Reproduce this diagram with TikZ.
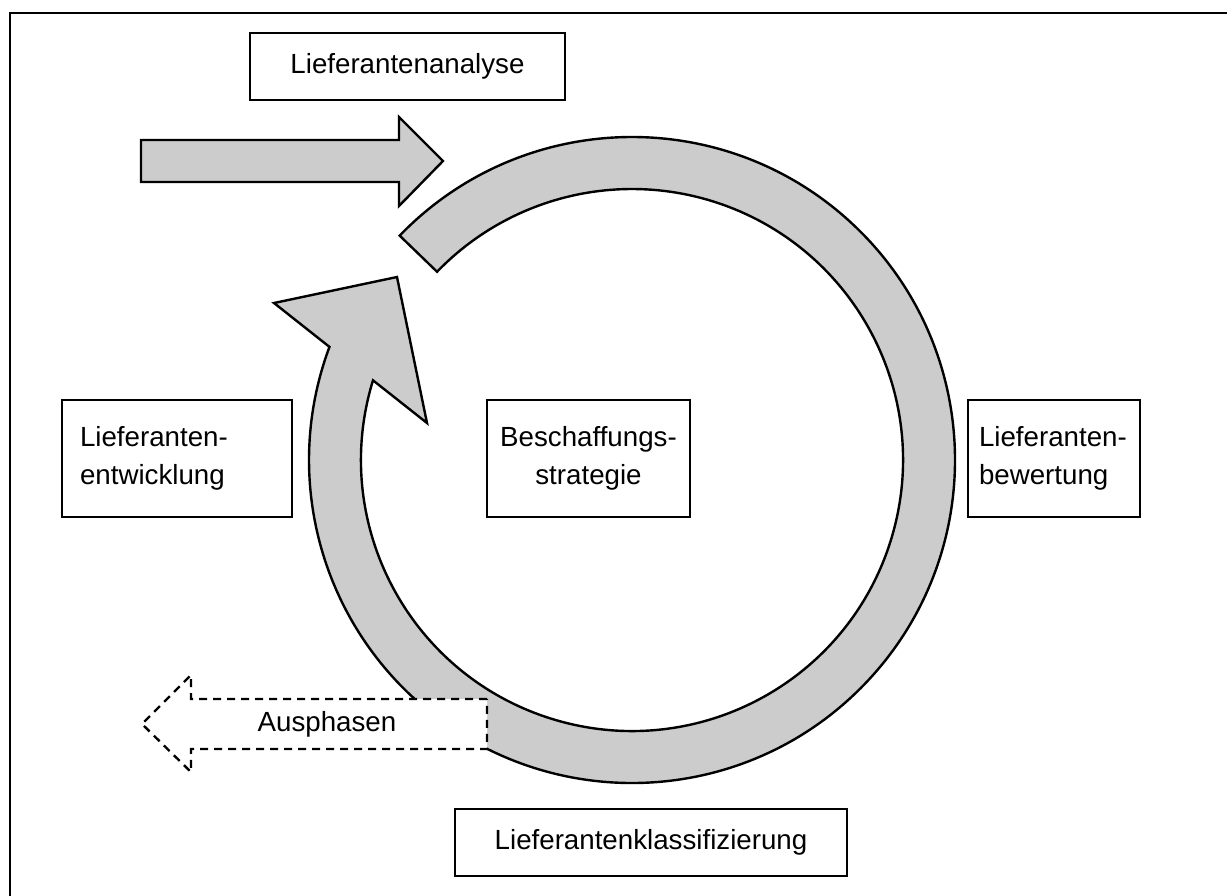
\documentclass[tikz,border=0pt]{standalone}
\usepackage{fontspec}
\setmainfont{Liberation Sans}
\definecolor{bandgray}{RGB}{204,204,204}
\begin{document}
\begin{tikzpicture}[x=1pt,y=1pt,
  txt/.style={font=\fontsize{27.7}{38}\selectfont},
  box/.style={txt, draw=black, fill=white, line width=2.4pt, inner sep=0pt},
  band/.style={draw=black, fill=bandgray, line width=2.4pt, line join=miter},
  outflow/.style={draw=black, fill=white, line width=2.4pt, dash pattern=on 8pt off 6pt}]
\useasboundingbox (0,0) rectangle (1227,-895);
\fill[white] (0,0) rectangle (1227,-895);

% outer frame (only top and left edges lie on the page)
\draw[line width=2.6pt] (1245,-13) -- (10,-13) -- (10,-915);

% entry arrow
\draw[band] (141,-140) -- (399,-140) -- (399,-117) -- (443,-161)
  -- (399,-206) -- (399,-182) -- (141,-182) -- cycle;

% circular cycle band with arrow head
\coordinate (c) at (632,-460);
\coordinate (barbL) at (274,-303);
\coordinate (tip) at (397,-277);
\coordinate (barbR) at (427,-423);
\draw[band] ([shift={(136:323pt)}]c)
  arc[start angle=136, end angle=-200.5, radius=323pt]
  -- (barbL) -- (tip) -- (barbR)
  -- ([shift={(-197.1:271pt)}]c)
  arc[start angle=-197.1, end angle=136, radius=271pt] -- cycle;

% phase-out arrow
\draw[outflow] (487,-699) -- (191,-699) -- (191,-675) -- (142,-724)
  -- (191,-772) -- (191,-749) -- (487,-749) -- cycle;
\node[txt] (ausphasen) at (327,-724) {Ausphasen};

% stage boxes
\node[box, minimum width=315pt, minimum height=67pt] (analyse) at (407.5,-66.5) {Lieferantenanalyse};
\node[box, minimum width=230pt, minimum height=117pt, text width=194pt, align=left] (entwicklung) at (177,-458.5) {Lieferanten-\\entwicklung};
\node[box, minimum width=203pt, minimum height=117pt, align=center] (strategie) at (588.5,-458.5) {Beschaffungs-\\strategie};
\node[box, minimum width=172pt, minimum height=117pt, text width=150pt, align=left] (bewertung) at (1054,-458.5) {Lieferanten-\\bewertung};
\node[box, minimum width=392pt, minimum height=67pt] (klassifizierung) at (651,-842.5) {Lieferantenklassifizierung};
\end{tikzpicture}
\end{document}
